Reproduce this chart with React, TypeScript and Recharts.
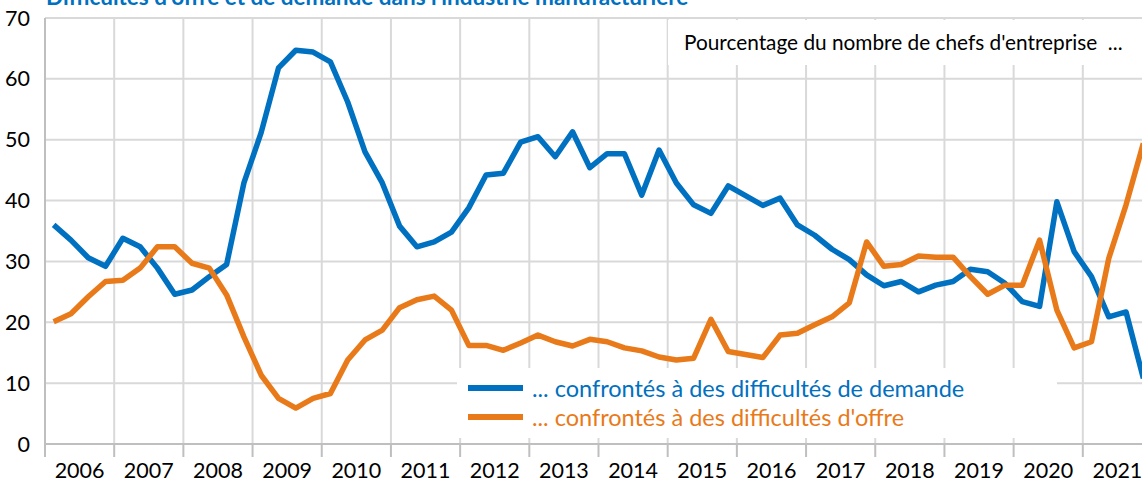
import React from 'react'
import { LineChart, Line, XAxis, YAxis, CartesianGrid, Legend } from 'recharts'

// quarterly, 2006 Q1 -> 2021 Q4
const demande = [
  36.0, 33.5, 30.6, 29.2, 33.8, 32.4, 28.9, 24.6,
  25.3, 27.5, 29.5, 42.9, 51.2, 61.8, 64.7, 64.4,
  62.8, 56.2, 48.0, 42.9, 35.8, 32.4, 33.2, 34.8,
  38.8, 44.2, 44.5, 49.6, 50.5, 47.2, 51.3, 45.4,
  47.7, 47.7, 40.9, 48.3, 42.9, 39.3, 37.9, 42.4,
  40.8, 39.2, 40.4, 36.0, 34.3, 32.0, 30.3, 27.8,
  26.0, 26.7, 25.0, 26.1, 26.7, 28.7, 28.3, 26.4,
  23.4, 22.6, 39.8, 31.6, 27.5, 20.9, 21.7, 10.8,
]
const offre = [
  20.1, 21.4, 24.2, 26.7, 26.9, 28.9, 32.4, 32.4,
  29.7, 28.9, 24.5, 17.6, 11.3, 7.5, 5.9, 7.5,
  8.3, 13.8, 17.1, 18.7, 22.4, 23.7, 24.3, 22.0,
  16.2, 16.2, 15.4, 16.6, 17.9, 16.8, 16.1, 17.2,
  16.8, 15.8, 15.3, 14.3, 13.8, 14.1, 20.5, 15.2,
  14.7, 14.2, 17.9, 18.2, 19.6, 20.9, 23.2, 33.2,
  29.2, 29.5, 30.9, 30.7, 30.7, 27.5, 24.6, 26.1,
  26.1, 33.5, 22.0, 15.8, 16.8, 30.5, 39.3, 49.4,
]
const yearTicks = [2006, 2007, 2008, 2009, 2010, 2011, 2012, 2013, 2014, 2015, 2016, 2017, 2018, 2019, 2020, 2021, 2022]
const yTicks = [0, 10, 20, 30, 40, 50, 60, 70]

const TITLE = "Difficultés d'offre et de demande dans l'industrie manufacturière"
const NOTE = "Pourcentage du nombre de chefs d'entreprise  ..."
const LABEL_DEMANDE = '... confrontés à des difficultés de demande'
const LABEL_OFFRE = "... confrontés à des difficultés d'offre"
const legendOrder = [LABEL_DEMANDE, LABEL_OFFRE]

const BLUE = '#0070C0'
const ORANGE = '#E97A1A'
const FONT = 'Lato, "Open Sans", sans-serif'

// points sit in the middle of each quarter
const data = demande.map((d, i) => ({ t: 2006 + i / 4 + 0.125, demande: d, offre: offre[i] }))

const CHART_W = 1160
const PLOT_LEFT = 45
const PLOT_RIGHT = 1152
const YEAR_W = (PLOT_RIGHT - PLOT_LEFT) / 16

const YearTick = (props: any) => {
  const { x, y, payload } = props
  if (payload.value >= 2022) return null
  return (
    <text x={x + YEAR_W / 2} y={y + 19} textAnchor="middle" fontSize={21.5} fill="#000" fontFamily={FONT}>
      {payload.value}
    </text>
  )
}

const LegendBox = (props: any) => {
  const items = [...(props.payload || [])].sort(
    (a: any, b: any) => legendOrder.indexOf(a.value) - legendOrder.indexOf(b.value),
  )
  return (
    <div style={{ background: '#fff', width: 600, height: 70, position: 'relative', fontFamily: FONT }}>
      {items.map((it: any, i: number) => (
        <div
          key={it.value}
          style={{ position: 'absolute', left: 11, top: 5 + i * 29, height: 30, display: 'flex', alignItems: 'center' }}
        >
          <span style={{ display: 'inline-block', width: 55, height: 6, background: it.color }} />
          <span style={{ marginLeft: 9, color: it.color, fontSize: 23.5, whiteSpace: 'nowrap' }}>{it.value}</span>
        </div>
      ))}
    </div>
  )
}

export default function App() {
  return (
    <div style={{ position: 'absolute', left: 0, top: 0, width: 1142, height: 483, overflow: 'hidden', background: '#fff' }}>
      <LineChart width={CHART_W} height={483} data={data} margin={{ top: 18, right: CHART_W - PLOT_RIGHT, bottom: 0, left: 0 }}>
        <CartesianGrid stroke="#d9d9d9" strokeWidth={2} />
        <XAxis
          dataKey="t"
          type="number"
          domain={[2006, 2022]}
          ticks={yearTicks}
          interval={0}
          height={39}
          tickSize={13}
          tickMargin={2}
          axisLine={{ stroke: '#bfbfbf', strokeWidth: 2 }}
          tickLine={{ stroke: '#bfbfbf', strokeWidth: 2 }}
          tick={<YearTick />}
        />
        <YAxis
          domain={[0, 70]}
          ticks={yTicks}
          interval={0}
          width={PLOT_LEFT}
          tickLine={false}
          tickMargin={9}
          axisLine={{ stroke: '#bfbfbf', strokeWidth: 2 }}
          tick={{ fill: '#000', fontSize: 21.5, fontFamily: FONT }}
        />
        <Legend
          layout="horizontal"
          verticalAlign="middle"
          align="center"
          content={<LegendBox />}
          wrapperStyle={{ left: 457, top: 368, width: 600, height: 70 }}
        />
        <Line
          type="linear"
          dataKey="demande"
          name={LABEL_DEMANDE}
          stroke={BLUE}
          strokeWidth={5.5}
          strokeLinejoin="round"
          dot={false}
          isAnimationActive={false}
        />
        <Line
          type="linear"
          dataKey="offre"
          name={LABEL_OFFRE}
          stroke={ORANGE}
          strokeWidth={5.5}
          strokeLinejoin="round"
          dot={false}
          isAnimationActive={false}
        />
      </LineChart>

      {/* title (cut at the top in the source) and the note box */}
      <svg width={1142} height={70} style={{ position: 'absolute', left: 0, top: 0, pointerEvents: 'none' }}>
        <text x={46} y={5} fontSize={22.5} fontWeight={700} fill={BLUE} fontFamily={FONT}>
          {TITLE}
        </text>
        <rect x={668} y={20} width={480} height={45} fill="#fff" />
        <text x={684} y={50} fontSize={20.8} fill="#000" fontFamily={FONT} xmlSpace="preserve">
          {NOTE}
        </text>
      </svg>
    </div>
  )
}
